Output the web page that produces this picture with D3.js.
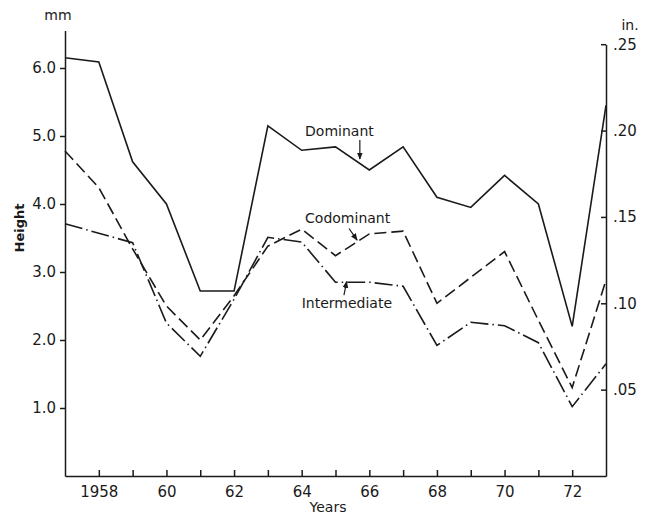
<!DOCTYPE html>
<html>
<head>
<meta charset="utf-8">
<script src="https://cdn.jsdelivr.net/npm/d3@7"></script>
<style>
  body { margin: 0; background: #fff; }
  text { font-family: "DejaVu Sans", "Liberation Sans", sans-serif; fill: #1a1a1a; }
</style>
</head>
<body>
<div id="chart"></div>
<script>
// annual height growth, mm (right axis shows the same in inches)
const years = [1957, 1958, 1959, 1960, 1961, 1962, 1963, 1964, 1965, 1966, 1967, 1968, 1969, 1970, 1971, 1972, 1973];
const dominant = [6.15, 6.09, 4.62, 4.0, 2.72, 2.72, 5.15, 4.79, 4.84, 4.5, 4.84, 4.1, 3.95, 4.42, 4.0, 2.2, 5.45];
const codominant = [4.78, 4.24, 3.34, 2.5, 2.0, 2.65, 3.38, 3.63, 3.24, 3.56, 3.6, 2.54, 2.92, 3.3, 2.29, 1.3, 2.88];
const intermediate = [3.71, 3.57, 3.43, 2.25, 1.76, 2.6, 3.51, 3.44, 2.85, 2.85, 2.79, 1.92, 2.26, 2.21, 1.96, 1.02, 1.65];

const mmTicks = [1, 2, 3, 4, 5, 6];
const inTicks = [0.05, 0.10, 0.15, 0.20, 0.25];
const yearTicks = [1958, 1959, 1960, 1961, 1962, 1963, 1964, 1965, 1966, 1967, 1968, 1969, 1970, 1971, 1972];
const yearLabels = { 1958: "1958", 1960: "60", 1962: "62", 1964: "64", 1966: "66", 1968: "68", 1970: "70", 1972: "72" };

function drawChart(containerId) {
  const W = 652, H = 516;
  const svg = d3.select(containerId).append("svg")
    .attr("width", W)
    .attr("height", H);

  const x = d3.scaleLinear().domain([1957, 1973]).range([65, 606]);
  const y = d3.scaleLinear().domain([0, 6.55]).range([476, 476 - 6.55 * 68]);
  // inches on the right, same physical scale
  const yIn = d3.scaleLinear().domain([0, 0.25]).range([y(0), y(0.25 * 25.4)]);

  const ink = "#1a1a1a";

  svg.append("defs").append("marker")
    .attr("id", "arrow")
    .attr("viewBox", "0 0 10 10")
    .attr("refX", 9).attr("refY", 5)
    .attr("markerWidth", 6).attr("markerHeight", 6)
    .attr("orient", "auto")
    .append("path")
    .attr("d", "M0,1 L10,5 L0,9 Z")
    .attr("fill", ink);

  // axes
  const xAxis = svg.append("g")
    .attr("transform", `translate(0,${y(0)})`)
    .call(d3.axisBottom(x)
      .tickValues(yearTicks)
      .tickSize(-6)
      .tickSizeOuter(0)
      .tickPadding(10)
      .tickFormat(d => yearLabels[d] || ""));

  const yAxis = svg.append("g")
    .attr("transform", `translate(${x(1957)},0)`)
    .call(d3.axisLeft(y)
      .tickValues(mmTicks)
      .tickSize(5)
      .tickSizeOuter(0)
      .tickPadding(4)
      .tickFormat(d3.format(".1f")));

  const yAxisR = svg.append("g")
    .attr("transform", `translate(${x(1973)},0)`)
    .call(d3.axisRight(yIn)
      .tickValues(inTicks)
      .tickSize(-5)
      .tickSizeOuter(0)
      .tickPadding(7)
      .tickFormat(d => d3.format(".2f")(d).slice(1)));

  [xAxis, yAxis, yAxisR].forEach(g => {
    g.selectAll("path, line").attr("stroke", ink).attr("stroke-width", 1.5);
    g.selectAll("text").style("font-size", "15px").attr("fill", ink);
  });

  svg.append("text")
    .attr("x", 58).attr("y", 20)
    .attr("text-anchor", "middle")
    .style("font-size", "14px")
    .text("mm");

  svg.append("text")
    .attr("x", 630).attr("y", 30)
    .attr("text-anchor", "middle")
    .style("font-size", "14px")
    .text("in.");

  svg.append("text")
    .attr("transform", "translate(24,228) rotate(-90)")
    .attr("text-anchor", "middle")
    .style("font-size", "13px")
    .style("font-weight", "bold")
    .text("Height");

  svg.append("text")
    .attr("x", 328).attr("y", 512)
    .attr("text-anchor", "middle")
    .style("font-size", "14px")
    .text("Years");

  // series
  const line = d3.line()
    .x((d, i) => x(years[i]))
    .y(d => y(d));

  const series = [
    { values: dominant, dash: null },
    { values: codominant, dash: "12,5" },
    { values: intermediate, dash: "18,4,1.5,4" }
  ];

  series.forEach(s => {
    svg.append("path")
      .datum(s.values)
      .attr("d", line)
      .attr("fill", "none")
      .attr("stroke", ink)
      .attr("stroke-width", 1.6)
      .attr("stroke-linejoin", "miter")
      .attr("stroke-dasharray", s.dash);
  });

  // series labels with pointer arrows
  const notes = [
    { text: "Dominant", at: [1964.1, 5.0], from: [1965.72, 4.94], to: [1965.72, 4.66] },
    { text: "Codominant", at: [1964.1, 3.72], from: [1965.4, 3.64], to: [1965.64, 3.47] },
    { text: "Intermediate", at: [1964.0, 2.47], from: [1965.25, 2.66], to: [1965.33, 2.86] }
  ];

  notes.forEach(n => {
    svg.append("text")
      .attr("x", x(n.at[0]))
      .attr("y", y(n.at[1]))
      .style("font-size", "14px")
      .text(n.text);

    svg.append("line")
      .attr("x1", x(n.from[0])).attr("y1", y(n.from[1]))
      .attr("x2", x(n.to[0])).attr("y2", y(n.to[1]))
      .attr("stroke", ink)
      .attr("stroke-width", 1.2)
      .attr("marker-end", "url(#arrow)");
  });
}

drawChart("#chart");
</script>
</body>
</html>
